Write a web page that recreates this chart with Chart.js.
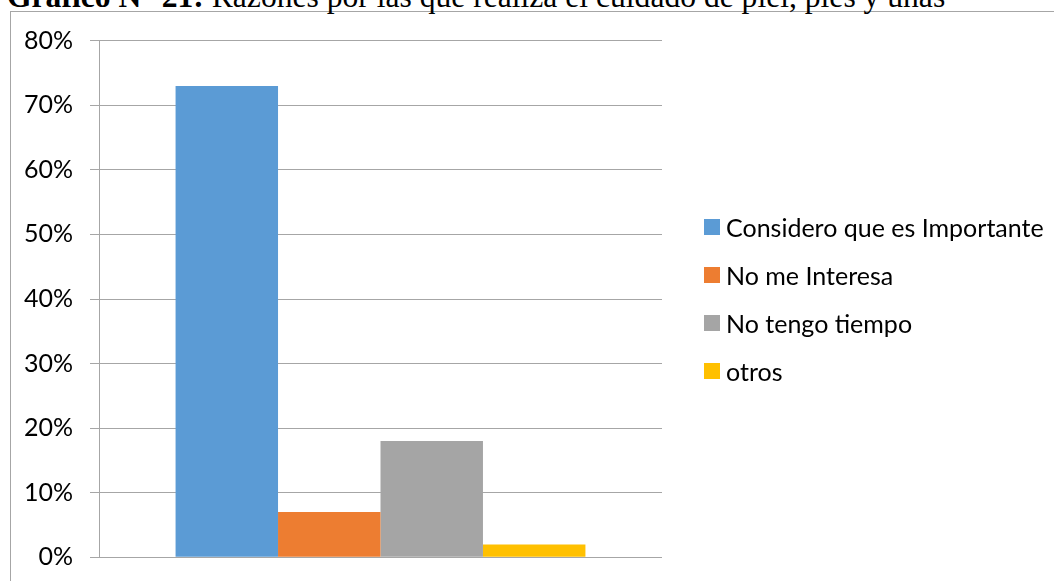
<!DOCTYPE html>
<html lang="es">
<head>
<meta charset="utf-8">
<title>Gráfico N° 21</title>
<script src="https://cdn.jsdelivr.net/npm/chart.js@4.4.1/dist/chart.umd.min.js"></script>
<style>
  html, body { margin: 0; padding: 0; background: #fff; overflow: hidden; }
  body { width: 1054px; height: 581px; position: relative; }
  #frame {
    position: absolute; left: 10px; top: 11px; width: 1200px; height: 700px;
    border-left: 1px solid #A6A6A6; border-top: 1px solid #A6A6A6; box-sizing: border-box;
  }
  #title {
    position: absolute; left: 7px; top: -19px; white-space: nowrap;
    font-family: "Liberation Serif", "Times New Roman", serif; font-size: 31.6px; line-height: 32px; color: #000;
  }
  #title b { font-weight: bold; }
  #chart { position: absolute; left: 0; top: 0; }
  #legend { position: absolute; left: 704px; top: 0; }
  .item { position: absolute; left: 0; height: 30px; display: flex; align-items: center; white-space: nowrap;
          font-family: Lato, "Open Sans", sans-serif; font-size: 25px; color: #000; }
  .swatch { width: 16px; height: 16px; margin-right: 6px; flex: none; }
</style>
</head>
<body>
<div id="frame"></div>
<div id="title"><b>Gráfico N° 21:</b> Razones por las que realiza el cuidado de piel, pies y uñas</div>
<canvas id="chart" width="1054" height="581"></canvas>
<div id="legend"></div>
<script>
// Survey answers (percent of respondents)
const categories = [''];
const seriesNames = ['Considero que es Importante', 'No me Interesa', 'No tengo tiempo', 'otros'];
const seriesValues = [73, 7, 18, 2];
const seriesColors = ['#5B9BD5', '#ED7D31', '#A5A5A5', '#FFC000'];
const yTicks = [0, 10, 20, 30, 40, 50, 60, 70, 80];

const datasets = seriesNames.map((name, i) => ({
  label: name,
  data: [seriesValues[i]],
  backgroundColor: seriesColors[i],
  borderWidth: 0,
  categoryPercentage: 0.728,
  barPercentage: 1.0
}));

new Chart(document.getElementById('chart'), {
  type: 'bar',
  data: { labels: categories, datasets },
  options: {
    responsive: false,
    animation: false,
    events: [],
    layout: { padding: { left: 0, top: 40.7, right: 392, bottom: 23.7 } },
    plugins: { legend: { display: false }, tooltip: { enabled: false }, title: { display: false } },
    scales: {
      x: { display: false },
      y: {
        min: yTicks[0],
        max: yTicks[yTicks.length - 1],
        afterBuildTicks: (scale) => { scale.ticks = yTicks.map(v => ({ value: v })); },
        afterFit: (scale) => {
          // fixed axis width; outer layout padding alone sets the plot's vertical extent
          scale.width = 99;
          scale.paddingTop = 0;
          scale.paddingBottom = 0;
        },
        border: { display: true, color: '#A6A6A6', width: 1 },
        grid: { color: '#A6A6A6', lineWidth: 1, tickLength: 9, drawTicks: true },
        ticks: {
          padding: 17,
          color: '#000',
          font: { family: 'Lato, "Open Sans", sans-serif', size: 25 },
          callback: (v) => v + '%'
        }
      }
    }
  }
});

// Legend built from the series arrays
const legend = document.getElementById('legend');
seriesNames.forEach((name, i) => {
  const row = document.createElement('div');
  row.className = 'item';
  row.style.top = (227 + 48 * i - 15) + 'px';
  const sw = document.createElement('span');
  sw.className = 'swatch';
  sw.style.background = seriesColors[i];
  const tx = document.createElement('span');
  tx.textContent = name;
  row.appendChild(sw);
  row.appendChild(tx);
  legend.appendChild(row);
});
</script>
</body>
</html>
